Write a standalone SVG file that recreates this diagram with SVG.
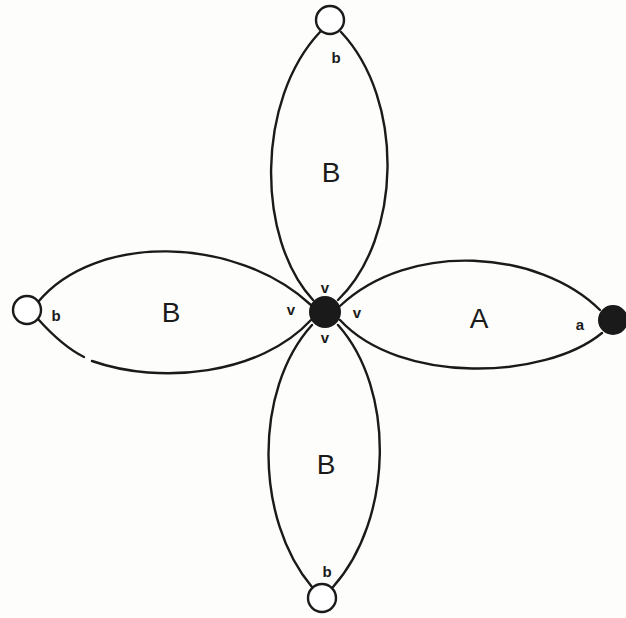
<svg xmlns="http://www.w3.org/2000/svg" width="626" height="618" viewBox="0 0 626 618">
<style>
.e{fill:none;stroke:#1a1a1a;stroke-width:2.4;stroke-linecap:round}
.o{fill:#fff;stroke:#1a1a1a;stroke-width:2.4}
.f{fill:#1a1a1a;stroke:#1a1a1a;stroke-width:2}
.L{font-family:"Liberation Sans",Arial,sans-serif;font-size:28px;fill:#1a1a1a;text-anchor:middle}
.s{font-family:"Liberation Sans",Arial,sans-serif;font-size:15px;fill:#1a1a1a;text-anchor:middle;font-weight:bold}
</style>
<rect width="626" height="618" fill="#fdfdfb"/>
<g id="edges">
<path class="e" d="M320,32 C256,100 256,238 313,300"/>
<path class="e" d="M341,32 C405,100 402,238 338,300"/>
<path class="e" d="M38,302 C95,233 235,235 311,305"/>
<path class="e" d="M38,319 C55,338 70,350 84,357"/>
<path class="e" d="M92,361 C160,385 260,375 311,320"/>
<path class="e" d="M340,306 C410,240 540,250 600,310"/>
<path class="e" d="M340,320 C400,385 545,380 602,333"/>
<path class="e" d="M312,325 C253,390 255,520 312,587"/>
<path class="e" d="M338,325 C396,390 393,520 333,587"/>
</g>
<g id="v-center"><circle class="f" cx="325" cy="312" r="15"/></g>
<g id="v-top"><circle class="o" cx="330" cy="20" r="14"/></g>
<g id="v-left"><circle class="o" cx="27" cy="310" r="14"/></g>
<g id="v-bottom"><circle class="o" cx="322" cy="598" r="14"/></g>
<g id="v-right"><circle class="f" cx="613" cy="320" r="14"/></g>
<g id="labels">
<text class="L" x="331" y="182">B</text>
<text class="L" x="171" y="322">B</text>
<text class="L" x="479" y="328">A</text>
<text class="L" x="326" y="474">B</text>
<text class="s" x="336" y="63">b</text>
<text class="s" x="56" y="321">b</text>
<text class="s" x="327" y="577">b</text>
<text class="s" x="580" y="330">a</text>
<text class="s" x="325" y="293">v</text>
<text class="s" x="291" y="315">v</text>
<text class="s" x="357" y="318">v</text>
<text class="s" x="325" y="343">v</text>
</g>
</svg>
